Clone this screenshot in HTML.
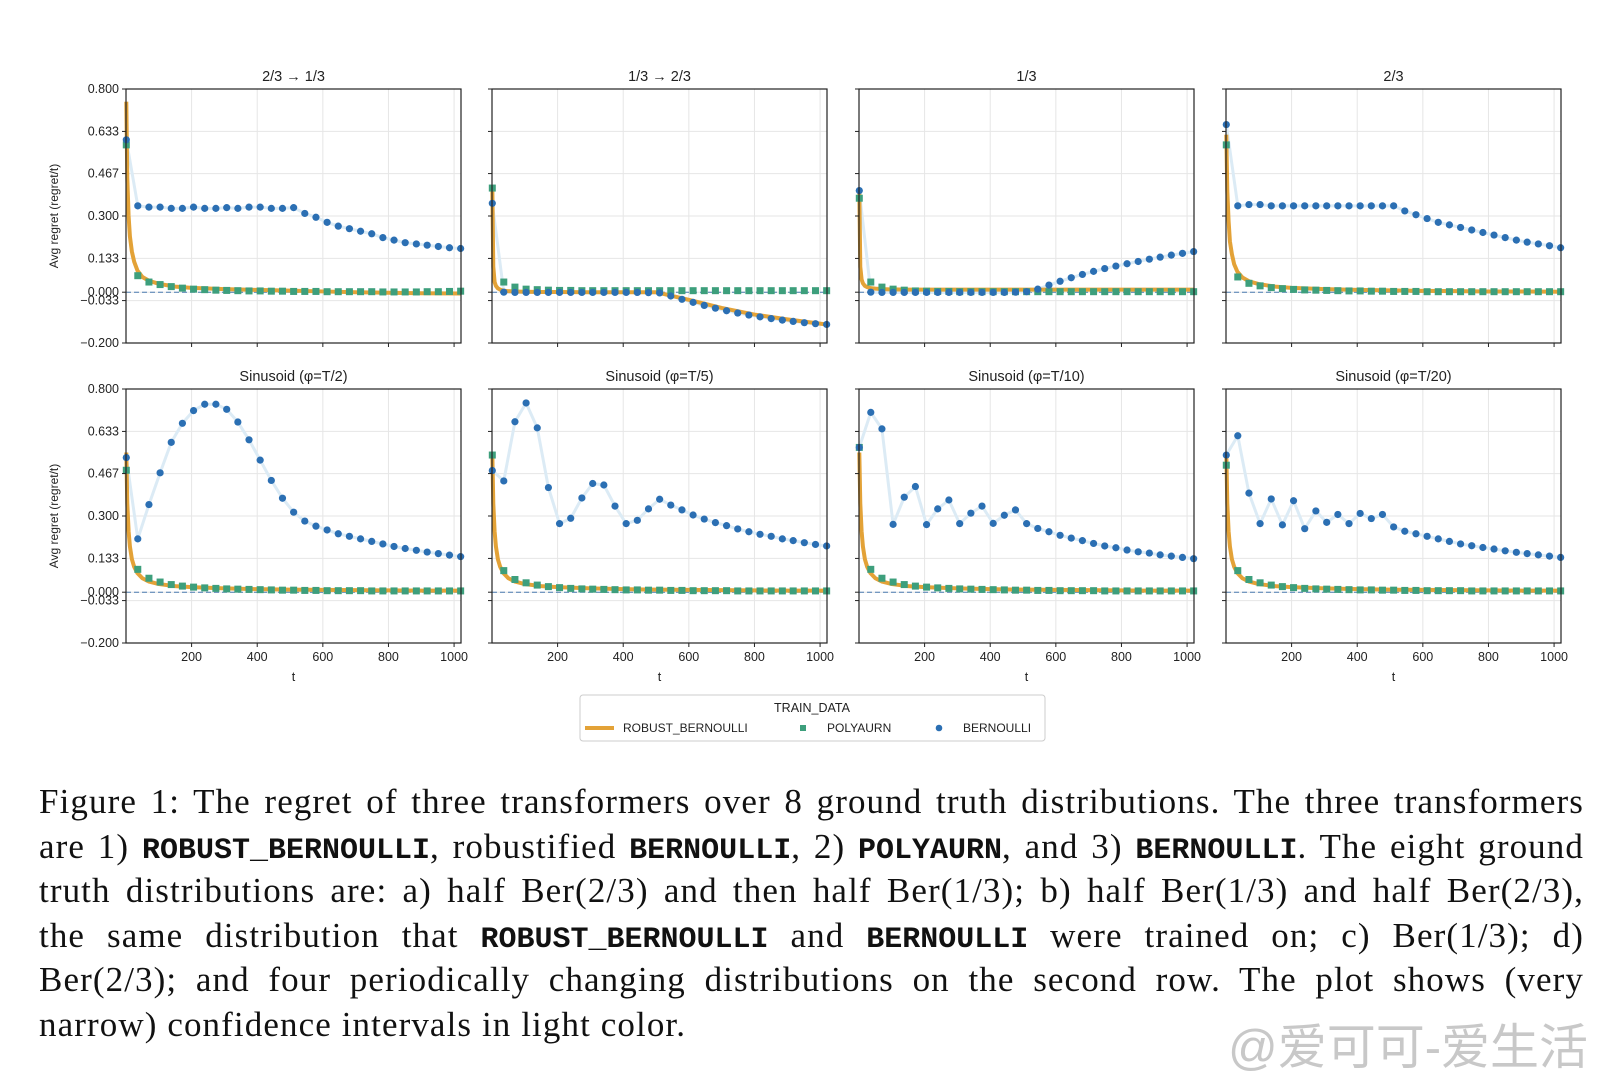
<!DOCTYPE html>
<html><head><meta charset="utf-8">
<style>
body{margin:0;width:1615px;height:1080px;background:#fff;position:relative;overflow:hidden;font-family:"Liberation Sans","DejaVu Sans",sans-serif}
#chart{position:absolute;left:0;top:0}
.cap{position:absolute;left:39px;width:1545px;font-family:"Liberation Serif",serif;font-size:35px;letter-spacing:1.1px;color:#111;text-align:justify;text-align-last:justify;white-space:nowrap;line-height:44px}
.cap.last{text-align-last:left}
.m{font-family:"Liberation Mono",monospace;font-size:30px;font-weight:bold;letter-spacing:0px}
#wm{position:absolute;left:1228px;top:1008px;font-family:"Liberation Sans","Noto Sans CJK SC",sans-serif;font-size:49px;color:#c8c8c8;white-space:nowrap}
</style></head><body>
<svg id="chart" width="1615" height="760"></svg>
<div class="cap" style="top:780px">Figure 1: The regret of three transformers over 8 ground truth distributions. The three transformers</div>
<div class="cap" style="top:825px">are 1) <span class="m">ROBUST_BERNOULLI</span>, robustified <span class="m">BERNOULLI</span>, 2) <span class="m">POLYAURN</span>, and 3) <span class="m">BERNOULLI</span>. The eight ground</div>
<div class="cap" style="top:869px">truth distributions are: a) half Ber(2/3) and then half Ber(1/3); b) half Ber(1/3) and half Ber(2/3),</div>
<div class="cap" style="top:914px">the same distribution that <span class="m">ROBUST_BERNOULLI</span> and <span class="m">BERNOULLI</span> were trained on; c) Ber(1/3); d)</div>
<div class="cap" style="top:958px">Ber(2/3); and four periodically changing distributions on the second row. The plot shows (very</div>
<div class="cap last" style="top:1003px">narrow) confidence intervals in light color.</div>
<div id="wm">@爱可可-爱生活</div>
<script>
const titles=["2/3 → 1/3","1/3 → 2/3","1/3","2/3","Sinusoid (φ=T/2)","Sinusoid (φ=T/5)","Sinusoid (φ=T/10)","Sinusoid (φ=T/20)"];
const yTicks=[0.8,0.633,0.467,0.3,0.133,0.0,-0.033,-0.2];
const yTickLabels=["0.800","0.633","0.467","0.300","0.133","0.000","−0.033","−0.200"];
const xTicks=[200,400,600,800,1000];
const tPts=[1,36,70,104,138,172,206,240,274,307,341,375,409,443,477,511,545,579,613,647,681,715,749,783,817,851,885,918,952,986,1020];
const orangeT=[1,4,8,12,18,25,35,50,70,100,150,200,300,400,500,600,700,800,900,1020];
const blue1=[0.6,0.34,0.335,0.335,0.33,0.33,0.335,0.33,0.33,0.333,0.33,0.335,0.335,0.33,0.33,0.333,0.31,0.295,0.275,0.26,0.25,0.24,0.23,0.215,0.205,0.195,0.19,0.185,0.18,0.175,0.172];
const blue2=[0.35,0.0,-0.001,-0.001,-0.001,-0.001,-0.001,-0.001,-0.001,-0.001,-0.001,-0.001,-0.001,-0.001,-0.002,-0.003,-0.015,-0.028,-0.04,-0.052,-0.063,-0.073,-0.082,-0.09,-0.097,-0.104,-0.11,-0.115,-0.12,-0.124,-0.127];
const blue3=[0.4,0.0,-0.001,-0.001,-0.001,-0.001,-0.001,-0.001,-0.001,-0.001,-0.001,-0.001,-0.001,-0.001,0.0,0.002,0.012,0.028,0.043,0.057,0.07,0.082,0.093,0.103,0.112,0.121,0.13,0.138,0.146,0.153,0.16];
const blue4=[0.66,0.34,0.345,0.345,0.34,0.34,0.34,0.34,0.34,0.34,0.34,0.34,0.34,0.34,0.34,0.34,0.32,0.305,0.29,0.275,0.265,0.255,0.245,0.235,0.225,0.215,0.205,0.197,0.19,0.183,0.175];
const blue5=[0.53,0.21,0.345,0.47,0.59,0.665,0.715,0.74,0.74,0.72,0.67,0.6,0.52,0.44,0.37,0.315,0.28,0.26,0.245,0.23,0.22,0.21,0.2,0.19,0.18,0.172,0.165,0.158,0.152,0.146,0.14];
const blue6=[0.479,0.438,0.671,0.745,0.647,0.412,0.27,0.291,0.371,0.428,0.422,0.339,0.27,0.283,0.328,0.366,0.343,0.324,0.304,0.288,0.274,0.262,0.249,0.238,0.228,0.22,0.21,0.203,0.195,0.188,0.182];
const blue7=[0.57,0.708,0.643,0.267,0.374,0.416,0.266,0.328,0.363,0.27,0.311,0.339,0.271,0.303,0.324,0.27,0.251,0.238,0.224,0.213,0.203,0.192,0.182,0.175,0.166,0.159,0.154,0.147,0.142,0.137,0.132];
const blue8=[0.54,0.616,0.39,0.27,0.367,0.265,0.36,0.25,0.32,0.275,0.306,0.27,0.31,0.29,0.306,0.257,0.24,0.23,0.22,0.21,0.2,0.19,0.183,0.176,0.17,0.163,0.157,0.152,0.147,0.142,0.137];
const green1=[0.58,0.065,0.04,0.03,0.022,0.016,0.012,0.01,0.008,0.007,0.006,0.005,0.005,0.004,0.004,0.003,0.003,0.003,0.002,0.002,0.002,0.002,0.002,0.001,0.001,0.001,0.001,0.002,0.002,0.003,0.004];
const green2=[0.41,0.04,0.02,0.012,0.01,0.008,0.007,0.007,0.006,0.006,0.006,0.006,0.006,0.006,0.006,0.006,0.006,0.006,0.006,0.006,0.006,0.006,0.006,0.006,0.006,0.006,0.006,0.006,0.006,0.006,0.006];
const green3=[0.37,0.04,0.02,0.012,0.008,0.005,0.004,0.003,0.003,0.002,0.002,0.002,0.002,0.002,0.002,0.002,0.002,0.002,0.002,0.002,0.002,0.002,0.002,0.002,0.002,0.002,0.002,0.002,0.002,0.002,0.002];
const green4=[0.58,0.06,0.035,0.025,0.018,0.014,0.011,0.009,0.008,0.007,0.006,0.005,0.005,0.004,0.004,0.003,0.003,0.003,0.002,0.002,0.002,0.002,0.002,0.002,0.002,0.002,0.002,0.002,0.002,0.002,0.002];
const green5=[0.48,0.09,0.055,0.04,0.03,0.024,0.02,0.017,0.015,0.013,0.012,0.011,0.01,0.009,0.008,0.008,0.007,0.007,0.006,0.006,0.006,0.006,0.005,0.005,0.005,0.005,0.005,0.005,0.005,0.005,0.005];
const green6=[0.54,0.085,0.05,0.037,0.028,0.022,0.018,0.015,0.013,0.012,0.011,0.01,0.009,0.009,0.008,0.008,0.007,0.007,0.006,0.006,0.006,0.006,0.005,0.005,0.005,0.005,0.005,0.005,0.005,0.005,0.005];
const green7=[0.57,0.09,0.055,0.04,0.03,0.024,0.02,0.017,0.015,0.013,0.012,0.011,0.01,0.009,0.008,0.008,0.007,0.007,0.006,0.006,0.006,0.006,0.005,0.005,0.005,0.005,0.005,0.005,0.005,0.005,0.005];
const green8=[0.5,0.085,0.05,0.037,0.028,0.022,0.018,0.015,0.013,0.012,0.011,0.01,0.009,0.009,0.008,0.008,0.007,0.007,0.006,0.006,0.006,0.006,0.005,0.005,0.005,0.005,0.005,0.005,0.005,0.005,0.005];
const orange1=[0.75,0.45,0.3,0.22,0.16,0.12,0.085,0.06,0.045,0.033,0.022,0.017,0.012,0.009,0.006,0.003,0.0,-0.002,-0.004,-0.005];
const orange2=[0.42,0.1,0.04,0.025,0.015,0.01,0.006,0.004,0.003,0.002,0.001,0.001,0.0,0.0,0.0,-0.03,-0.062,-0.088,-0.107,-0.127];
const orange3=[0.4,0.1,0.05,0.035,0.025,0.02,0.016,0.014,0.012,0.011,0.01,0.01,0.01,0.01,0.01,0.01,0.01,0.01,0.01,0.01];
const orange4=[0.62,0.4,0.28,0.2,0.15,0.11,0.08,0.058,0.043,0.032,0.022,0.017,0.012,0.009,0.007,0.005,0.004,0.003,0.003,0.002];
const orangeB=[0.55,0.35,0.24,0.18,0.13,0.1,0.075,0.055,0.042,0.032,0.024,0.02,0.015,0.012,0.01,0.009,0.008,0.007,0.006,0.006];
const blues=[blue1,blue2,blue3,blue4,blue5,blue6,blue7,blue8];
const greens=[green1,green2,green3,green4,green5,green6,green7,green8];
const oranges=[orange1,orange2,orange3,orange4,orangeB,orangeB,orangeB,orangeB];

const NS="http://www.w3.org/2000/svg";
const svg=document.getElementById('chart');
function mk(tag,attrs,parent){const e=document.createElementNS(NS,tag);for(const k in attrs)e.setAttribute(k,attrs[k]);(parent||svg).appendChild(e);return e;}
const lefts=[126,492,859,1226], tops=[89,389], W=335, H=254;
for(let p=0;p<8;p++){
  const L=lefts[p%4], T=tops[Math.floor(p/4)];
  const g=mk('g',{});
  
  
  const xs=t=>L+ (t-1)/(1022-1)*W + 0.3;
  const ys=v=>T+(0.8-v)/1.0*H;
  xTicks.forEach(t=>{const l=mk('line',{x1:xs(t),x2:xs(t),y1:T,y2:T+H,stroke:'#e6e6e6','stroke-width':1},g);});
  yTicks.forEach(v=>{const l=mk('line',{x1:L,x2:L+W,y1:ys(v),y2:ys(v),stroke:'#e6e6e6','stroke-width':1},g);});
  const z=mk('line',{x1:L,x2:L+W,y1:ys(0),y2:ys(0),stroke:'#4a7bb0','stroke-width':1,'stroke-dasharray':'5,3'},g);
  
  const bp=blues[p].map((v,i)=>xs(tPts[i])+','+ys(v)).join(' ');
  const band=mk('polyline',{points:bp,fill:'none',stroke:'#dcebf5','stroke-width':3,'stroke-linejoin':'round'},g);
  
  const op=oranges[p].map((v,i)=>xs(orangeT[i])+','+ys(v)).join(' ');
  const ol=mk('polyline',{points:op,fill:'none',stroke:'#e3a237','stroke-width':4,'stroke-linejoin':'round'},g);
  
  greens[p].forEach((v,i)=>{const r=mk('rect',{x:xs(tPts[i])-3.5,y:ys(v)-3.5,width:7,height:7,fill:'#3d9f7c'},g);});
  blues[p].forEach((v,i)=>{const c=mk('circle',{cx:xs(tPts[i]),cy:ys(v),r:3.6,fill:'#2b6fb3'},g);});
  const fr=mk('rect',{x:L,y:T,width:W,height:H,fill:'none',stroke:'#222','stroke-width':1.2},g);
  
  yTicks.forEach((v,i)=>{mk('line',{x1:L-4,x2:L,y1:ys(v),y2:ys(v),stroke:'#222'},g);
    if(p%4===0){const tx=mk('text',{x:L-7,y:ys(v)+4,'text-anchor':'end','font-size':12.5,fill:'#222'},g);tx.textContent=yTickLabels[i];}});
  xTicks.forEach(t=>{mk('line',{x1:xs(t),x2:xs(t),y1:T+H,y2:T+H+4,stroke:'#222'},g);
    if(p>=4){const tx=mk('text',{x:xs(t),y:T+H+18,'text-anchor':'middle','font-size':12.5,fill:'#222'},g);tx.textContent=t;}});
  const ti=mk('text',{x:L+W/2,y:T-8,'text-anchor':'middle','font-size':14.5,fill:'#222'},g);
  ti.textContent=titles[p];
  if(p>=4){const xl=mk('text',{x:L+W/2,y:T+H+38,'text-anchor':'middle','font-size':12.5,fill:'#222'},g);xl.textContent='t';}
  if(p%4===0){const yl=mk('text',{x:0,y:0,'text-anchor':'middle','font-size':12,fill:'#222',transform:`translate(58,${T+H/2}) rotate(-90)`},g);yl.textContent='Avg regret (regret/t)';}
}
const lg=mk('g',{});


mk('rect',{x:580,y:695,width:465,height:46,rx:3,fill:'#fff',stroke:'#ccc'},lg);
const lt=mk('text',{x:812,y:712,'text-anchor':'middle','font-size':12.5,fill:'#222'},lg);lt.textContent='TRAIN_DATA';

const le1=mk('g',{},lg);
mk('line',{x1:585,x2:614,y1:728,y2:728,stroke:'#e3a237','stroke-width':4},le1);
let t1=mk('text',{x:623,y:732,'font-size':12,fill:'#222'},le1);t1.textContent='ROBUST_BERNOULLI';
const le2=mk('g',{},lg);
mk('rect',{x:800,y:725,width:6,height:6,fill:'#3d9f7c'},le2);
let t2=mk('text',{x:827,y:732,'font-size':12,fill:'#222'},le2);t2.textContent='POLYAURN';
const le3=mk('g',{},lg);
mk('circle',{cx:939,cy:728,r:3.3,fill:'#2b6fb3'},le3);
let t3=mk('text',{x:963,y:732,'font-size':12,fill:'#222'},le3);t3.textContent='BERNOULLI';
</script>
</body></html>
